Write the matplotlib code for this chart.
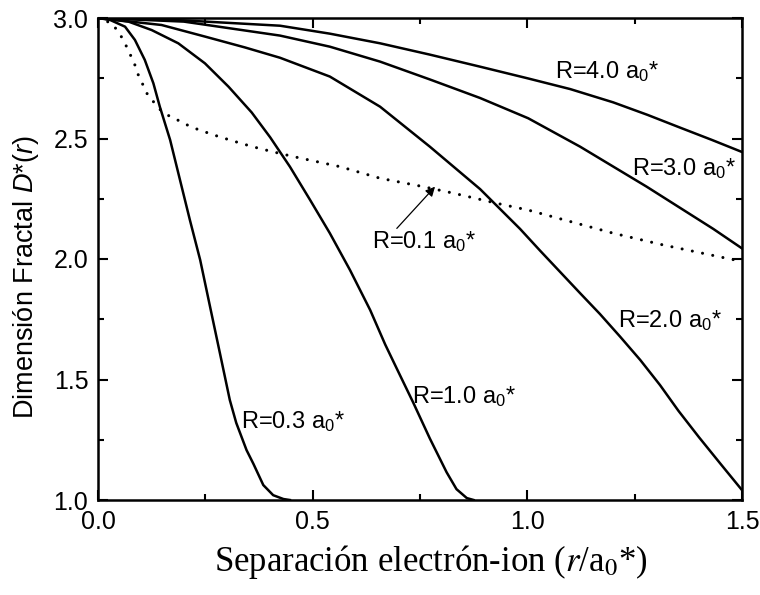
import matplotlib
matplotlib.use("Agg")
import matplotlib.pyplot as plt
from matplotlib.ticker import MultipleLocator

# Curvas: D*(r) para distintos radios R
x_r03 = [0.0, 0.028, 0.063, 0.086, 0.109, 0.129, 0.144, 0.168, 0.191, 0.214,
         0.238, 0.261, 0.284, 0.307, 0.322, 0.346, 0.362, 0.385, 0.408, 0.432,
         0.447]
y_r03 = [3.0, 2.992, 2.964, 2.909, 2.826, 2.729, 2.632, 2.494, 2.328, 2.162,
         1.996, 1.802, 1.609, 1.415, 1.32, 1.207, 1.15, 1.062, 1.02, 1.004,
         1.0]

x_r10 = [0.0, 0.071, 0.125, 0.187, 0.249, 0.304, 0.358, 0.401, 0.447, 0.494,
         0.540, 0.587, 0.634, 0.669, 0.696, 0.734, 0.773, 0.812, 0.835, 0.859,
         0.875]
y_r10 = [3.0, 2.985, 2.95, 2.895, 2.812, 2.715, 2.608, 2.505, 2.383, 2.245,
         2.107, 1.954, 1.788, 1.645, 1.545, 1.405, 1.255, 1.115, 1.045, 1.008,
         1.0]

x_r20 = [0.0, 0.148, 0.249, 0.342, 0.424, 0.540, 0.657, 0.773, 0.89, 0.983,
         1.03, 1.076, 1.123, 1.169, 1.216, 1.263, 1.309, 1.352, 1.40, 1.45,
         1.5]
y_r20 = [3.0, 2.971, 2.923, 2.878, 2.835, 2.757, 2.632, 2.466, 2.29, 2.125,
         2.034, 1.947, 1.858, 1.772, 1.678, 1.581, 1.477, 1.37, 1.26, 1.15,
         1.041]

x_r30 = [0.0, 0.2, 0.424, 0.540, 0.657, 0.773, 0.89, 1.002, 1.123, 1.278,
         1.433, 1.5]
y_r30 = [3.0, 2.985, 2.927, 2.881, 2.819, 2.745, 2.668, 2.584, 2.466, 2.30,
         2.125, 2.044]

x_r40 = [0.0, 0.2, 0.424, 0.54, 0.657, 0.773, 0.89, 1.0, 1.1, 1.2, 1.28,
         1.356, 1.43, 1.5]
y_r40 = [3.0, 2.99, 2.968, 2.935, 2.895, 2.848, 2.798, 2.750, 2.705, 2.650,
         2.598, 2.545, 2.494, 2.444]

x_r01 = [0.0, 0.032, 0.049, 0.061, 0.073, 0.084, 0.094, 0.106, 0.117, 0.129,
         0.144, 0.161, 0.182, 0.203, 0.226, 0.269, 0.314, 0.36, 0.407, 0.455,
         0.564, 0.657, 0.758, 0.828, 0.929, 1.002, 1.2, 1.317, 1.464, 1.5]
y_r01 = [3.0, 2.978, 2.939, 2.902, 2.856, 2.815, 2.763, 2.718, 2.676, 2.653,
         2.621, 2.598, 2.580, 2.560, 2.542, 2.515, 2.490, 2.466, 2.445, 2.425,
         2.383, 2.335, 2.30, 2.273, 2.231, 2.203, 2.107, 2.058, 2.003, 1.99]

# Etiquetas (texto, x, y)
labels = [
    ("R=4.0 a$_0$*", 1.065, 2.751),
    ("R=3.0 a$_0$*", 1.243, 2.349),
    ("R=2.0 a$_0$*", 1.212, 1.719),
    ("R=1.0 a$_0$*", 0.731, 1.401),
    ("R=0.3 a$_0$*", 0.332, 1.297),
]
r01_label = ("R=0.1 a$_0$*", 0.6375, 2.044)
r01_arrow_tail = (0.696, 2.127)
r01_arrow_head = (0.785, 2.30)

plt.rcParams['mathtext.fontset'] = 'custom'
plt.rcParams['mathtext.rm'] = 'Liberation Sans'
plt.rcParams['mathtext.it'] = 'Liberation Sans:italic'
plt.rcParams['font.family'] = ['Liberation Sans', 'DejaVu Sans']

fig = plt.figure(figsize=(7.6, 5.95), dpi=100)
ax = fig.add_axes([98 / 760, 1 - 500 / 595, 644 / 760, 482 / 595])

lw = 1.8
for xs, ys in [(x_r03, y_r03), (x_r10, y_r10), (x_r20, y_r20),
               (x_r30, y_r30), (x_r40, y_r40)]:
    ax.plot(xs, ys, color='black', lw=lw, solid_joinstyle='round')
ax.plot(x_r01, y_r01, color='black', lw=2.2, linestyle=(0, (0.01, 3.4)),
        dash_capstyle='round')

fs = 17
for txt, tx, ty in labels:
    ax.text(tx, ty, txt, fontsize=fs, ha='left', va='baseline')
ax.text(r01_label[1], r01_label[2], r01_label[0], fontsize=fs,
        ha='left', va='baseline')
ax.annotate('', xy=r01_arrow_head, xytext=r01_arrow_tail,
            arrowprops=dict(arrowstyle='-|>', color='black', lw=0.9,
                            mutation_scale=14, shrinkA=0, shrinkB=0))

ax.set_xlim(0, 1.5)
ax.set_ylim(1.0, 3.0)
ax.xaxis.set_major_locator(MultipleLocator(0.5))
ax.xaxis.set_minor_locator(MultipleLocator(0.25))
ax.yaxis.set_major_locator(MultipleLocator(0.5))
ax.yaxis.set_minor_locator(MultipleLocator(0.25))
ax.xaxis.set_major_formatter(plt.FuncFormatter(lambda v, p: f'{v:.1f}'))
ax.yaxis.set_major_formatter(plt.FuncFormatter(lambda v, p: f'{v:.1f}'))

for s in ax.spines.values():
    s.set_linewidth(1.8)
ax.tick_params(which='both', direction='in', top=True, right=True,
               width=1.5, labelsize=18)
ax.tick_params(which='major', length=7)
ax.tick_params(which='minor', length=4)
ax.tick_params(axis='x', pad=7)
ax.tick_params(axis='y', pad=7)

ax.set_ylabel(r'Dimensión Fractal $D$*($r$)', fontsize=19.5)
ax.yaxis.set_label_coords(-0.088, 0.463)
ax.set_xlabel(r'Separación electrón-ion ($r$/a$_0$*)', fontsize=25,
              family='Liberation Serif', math_fontfamily='stix', labelpad=7)
ax.xaxis.label.set_x(0.517)

fig.savefig('out.png', dpi=100)
